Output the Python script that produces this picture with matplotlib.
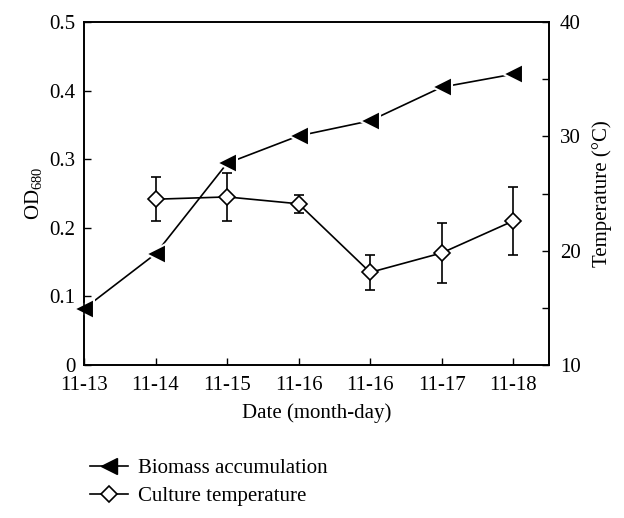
import matplotlib
matplotlib.use("Agg")
import matplotlib.pyplot as plt
from matplotlib.ticker import MultipleLocator

plt.rcParams['font.family'] = ['Liberation Serif', 'DejaVu Serif']
plt.rcParams['mathtext.fontset'] = 'custom'
plt.rcParams['mathtext.rm'] = 'Liberation Serif'
plt.rcParams['mathtext.it'] = 'Liberation Serif:italic'

dates = ['11-13', '11-14', '11-15', '11-16', '11-16', '11-17', '11-18']
biomass = [0.082, 0.162, 0.294, 0.334, 0.356, 0.405, 0.424]

temp_x = [1, 2, 3, 4, 5, 6]
temperature = [24.5, 24.7, 24.1, 18.1, 19.8, 22.6]
temp_err = [1.9, 2.1, 0.8, 1.5, 2.6, 3.0]

od_ticks = [0, 0.1, 0.2, 0.3, 0.4, 0.5]
od_labels = ['0', '0.1', '0.2', '0.3', '0.4', '0.5']

fig = plt.figure(figsize=(6.24, 5.18), dpi=100)
ax = fig.add_axes([84/624, 1 - 365/518, 465/624, 343/518])
ax2 = ax.twinx()

x = list(range(len(dates)))
ax.plot(x, biomass, color='black', lw=1.2, marker='<', markersize=14,
        markerfacecolor='black', markeredgecolor='white', markeredgewidth=1.5,
        clip_on=False, zorder=3)
ax2.errorbar(temp_x, temperature, yerr=temp_err, color='black', lw=1.2,
             elinewidth=1.2, capsize=3.5, capthick=1.2, marker='D', markersize=8,
             markerfacecolor='white', markeredgecolor='black', markeredgewidth=1.2)
l2, = ax2.plot([], [], color='black', lw=1.2, marker='D', markersize=8,
               markerfacecolor='white', markeredgecolor='black', markeredgewidth=1.2)
l1_leg, = ax2.plot([], [], color='black', lw=1.2, marker='<', markersize=11,
                   markerfacecolor='black', markeredgecolor='black')

ax.set_xlim(0, 6.5)
ax.set_ylim(0, 0.5)
ax2.set_ylim(10, 40)
ax.set_xticks(x)
ax.set_xticklabels(dates)
ax.set_yticks(od_ticks)
ax.set_yticklabels(od_labels)
ax2.yaxis.set_major_locator(MultipleLocator(10))
ax2.yaxis.set_minor_locator(MultipleLocator(5))

for a in (ax, ax2):
    a.tick_params(direction='in', labelsize=15, length=5, width=1)
    a.tick_params(which='minor', direction='in', length=5, width=1)
    for s in a.spines.values():
        s.set_linewidth(1.2)
ax.tick_params(axis='y', pad=6)
ax.tick_params(axis='x', pad=8)
ax2.tick_params(axis='y', pad=8)

ax.set_xlabel('Date (month-day)', fontsize=15, labelpad=6)
ax.set_ylabel('OD$_{680}$', fontsize=15, labelpad=4)
ax2.set_ylabel('Temperature (°C)', fontsize=15, labelpad=8)

fig.legend([l1_leg, l2], ['Biomass accumulation', 'Culture temperature'],
           loc='upper left', bbox_to_anchor=(82/624, 1 - 450/518), frameon=False,
           fontsize=15, handlelength=1.8, handletextpad=0.5, labelspacing=0.4,
           borderaxespad=0)

fig.savefig('out.png', dpi=100)
